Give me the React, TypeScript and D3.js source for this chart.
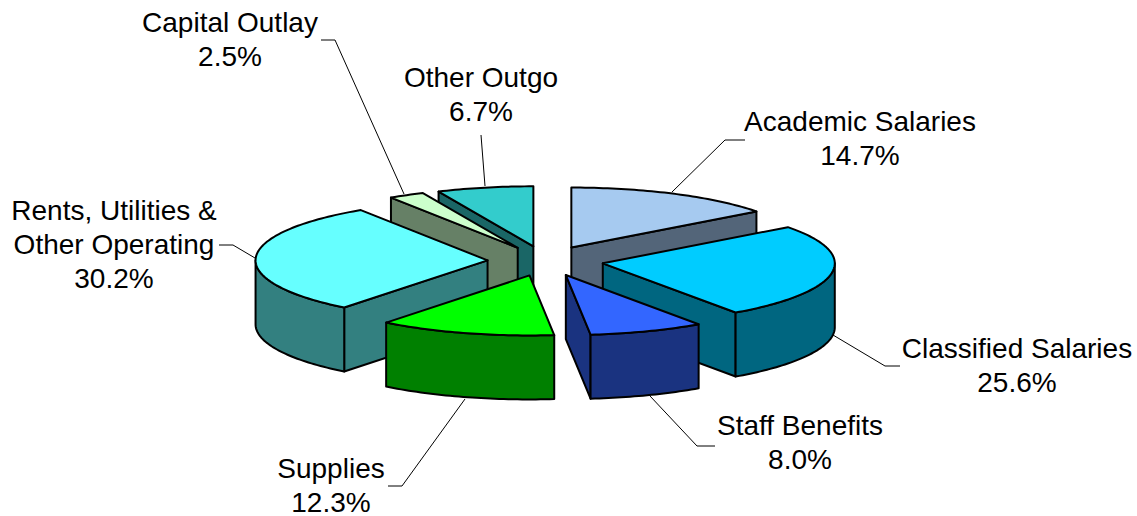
import React from "react";
import * as d3 from "d3";

const categories = ["Academic Salaries", "Classified Salaries", "Staff Benefits", "Supplies", "Rents, Utilities & Other Operating", "Capital Outlay", "Other Outgo"];
const shares = [14.7, 25.6, 8.0, 12.3, 30.2, 2.5, 6.7];
const shareLabels = ["14.7%", "25.6%", "8.0%", "12.3%", "30.2%", "2.5%", "6.7%"];
const topColors = ["#A6CAF0", "#00CCFF", "#3366FF", "#00FF00", "#66FFFF", "#CCFFCC", "#33CCCC"];
const sideColors = ["#536579", "#006680", "#1A3380", "#008000", "#338080", "#668066", "#1A6666"];
const labelLines = [["Academic Salaries"], ["Classified Salaries"], ["Staff Benefits"], ["Supplies"], ["Rents, Utilities &", "Other Operating"], ["Capital Outlay"], ["Other Outgo"]];

// Layout (not data)
const W = 1137, H = 516;
const CX = 545.5, CY = 261, RX = 232, RY = 60, DEPTH = 64, EXPLODE = 0.25;
const drawOrder = [6, 5, 0, 4, 1, 3, 2];
const labelPos: [number, number][] = [[860, 131], [1017, 358], [800, 435], [331, 478], [114, 220], [230, 32], [481, 87]];
const leaders: [number, number][][] = [
  [[745, 140], [725, 140], [672, 192]],
  [[900, 366], [885, 366], [833, 335]],
  [[715, 446], [697, 446], [650, 396]],
  [[388, 486], [402, 486], [465, 399]],
  [[219, 245], [233, 245], [255, 258]],
  [[321, 40], [335, 40], [404, 194]],
  [[481, 135], [485, 186]],
];

const px = d3.scaleLinear().domain([-1, 1]).range([-RX, RX]);
const py = d3.scaleLinear().domain([-1, 1]).range([-RY, RY]);
const pie = d3.pie<number>().sort(null).startAngle(0).endAngle(2 * Math.PI);
const line = d3.line<[number, number]>();
const HALF = Math.PI / 2;

function arcPts(ox: number, oy: number, a0: number, a1: number): [number, number][] {
  const n = Math.max(2, Math.ceil((a1 - a0) / 0.02));
  return d3.range(n + 1).map((i) => {
    const a = a0 + ((a1 - a0) * i) / n;
    return [ox + px(Math.sin(a)), oy + py(-Math.cos(a))] as [number, number];
  });
}

const drop = (pts: [number, number][]) => pts.map(([x, y]) => [x, y + DEPTH] as [number, number]);

export default function App() {
  const arcs = pie(shares);
  const strokeW = 2;
  return (
    <svg width={W} height={H} viewBox={`0 0 ${W} ${H}`} style={{ position: "absolute", left: 0, top: 0, background: "#fff" }}>
      {leaders.map((pts, i) => (
        <path key={i} d={line(pts) ?? ""} fill="none" stroke="#000" strokeWidth={1} />
      ))}
      {drawOrder.map((i) => {
        const { startAngle: a0, endAngle: a1 } = arcs[i];
        const mid = (a0 + a1) / 2;
        const ox = CX + EXPLODE * px(Math.sin(mid));
        const oy = CY + EXPLODE * py(-Math.cos(mid));
        const rim = arcPts(ox, oy, a0, a1);
        const apex: [number, number] = [ox, oy];
        const wall = (a: number) => {
          const p = arcPts(ox, oy, a, a + 1e-6)[0];
          const q: [number, number][] = [apex, p, [p[0], p[1] + DEPTH], [apex[0], apex[1] + DEPTH]];
          return (line(q) ?? "") + "Z";
        };
        const lo = Math.max(a0, HALF), hi = Math.min(a1, 3 * HALF);
        let rimSide = "";
        if (hi > lo) {
          const top = arcPts(ox, oy, lo, hi);
          rimSide = (line([...top, ...drop(top).reverse()]) ?? "") + "Z";
        }
        const common = { stroke: "#000", strokeWidth: strokeW, strokeLinejoin: "round" as const };
        return (
          <g key={i}>
            {Math.sin(a0) < -1e-6 && <path d={wall(a0)} fill={sideColors[i]} {...common} />}
            {Math.sin(a1) > 1e-6 && <path d={wall(a1)} fill={sideColors[i]} {...common} />}
            {rimSide && <path d={rimSide} fill={sideColors[i]} {...common} />}
            <path d={(line([apex, ...rim]) ?? "") + "Z"} fill={topColors[i]} {...common} />
          </g>
        );
      })}
      {categories.map((c, i) => {
        const [x, y] = labelPos[i];
        const lines = [...labelLines[i], shareLabels[i]];
        return (
          <text key={c} x={x} y={y} textAnchor="middle" fontFamily="'Liberation Sans', Arial, sans-serif" fontSize={28} fill="#000">
            {lines.map((t, j) => (
              <tspan key={j} x={x} y={y + j * 34}>{t}</tspan>
            ))}
          </text>
        );
      })}
    </svg>
  );
}
